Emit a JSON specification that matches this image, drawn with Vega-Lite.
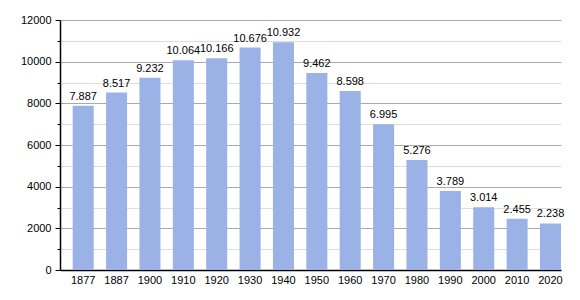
{
  "$schema": "https://vega.github.io/schema/vega-lite/v6.json",
  "width": 501,
  "height": 250,
  "autosize": {"type": "none"},
  "padding": {"left": 60, "top": 20, "right": 19, "bottom": 30},
  "background": "white",
  "config": {
    "view": {"stroke": null},
    "font": "Liberation Sans",
    "locale": {"number": {"decimal": ",", "thousands": ".", "grouping": [3], "currency": ["", ""]}}
  },
  "data": {"values": [
    {"year": "1877", "pop": 7887},
    {"year": "1887", "pop": 8517},
    {"year": "1900", "pop": 9232},
    {"year": "1910", "pop": 10064},
    {"year": "1920", "pop": 10166},
    {"year": "1930", "pop": 10676},
    {"year": "1940", "pop": 10932},
    {"year": "1950", "pop": 9462},
    {"year": "1960", "pop": 8598},
    {"year": "1970", "pop": 6995},
    {"year": "1980", "pop": 5276},
    {"year": "1990", "pop": 3789},
    {"year": "2000", "pop": 3014},
    {"year": "2010", "pop": 2455},
    {"year": "2020", "pop": 2238}
  ]},
  "encoding": {
    "x": {
      "field": "year", "type": "nominal", "sort": null,
      "scale": {"paddingInner": 0.37, "paddingOuter": 0.19, "align": 1},
      "axis": {
        "title": null, "labelAngle": 0, "ticks": false, "labelPadding": 4,
        "labelFontSize": 11, "labelColor": "#000", "domainColor": "#000", "domainWidth": 1.5, "grid": false
      }
    },
    "y": {
      "field": "pop", "type": "quantitative",
      "scale": {"domain": [0, 12000], "nice": false},
      "axis": {
        "title": null,
        "values": [0, 1000, 2000, 3000, 4000, 5000, 6000, 7000, 8000, 9000, 10000, 11000, 12000],
        "format": "d",
        "labelExpr": "datum.value % 2000 === 0 ? format(datum.value, 'd') : ''",
        "labelFontSize": 11, "labelColor": "#000", "labelPadding": 4,
        "domainColor": "#000", "domainWidth": 1.5,
        "tickColor": "#000",
        "tickSize": {"condition": {"test": "datum.value % 2000 === 0", "value": 5}, "value": 3},
        "grid": true,
        "gridColor": {"condition": {"test": "datum.value % 2000 === 0", "value": "#aaaaaa"}, "value": "#dddddd"},
        "gridWidth": 1
      }
    }
  },
  "layer": [
    {"mark": {"type": "bar", "color": "#9bb2e6"}},
    {
      "mark": {"type": "text", "baseline": "bottom", "dy": -4, "fontSize": 11, "color": "#000"},
      "encoding": {"text": {"field": "pop", "type": "quantitative", "format": ",d"}}
    }
  ]
}
